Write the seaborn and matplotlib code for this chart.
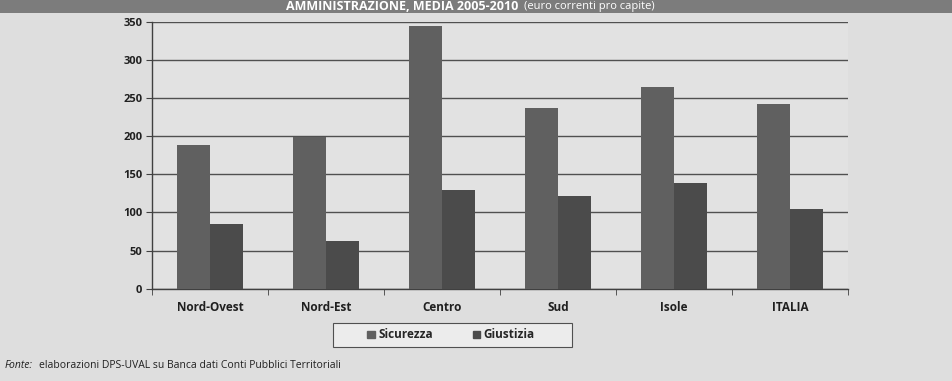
import seaborn as sns
import pandas as pd
import matplotlib.pyplot as plt
from matplotlib.patches import Rectangle, Patch

regioni = ['Nord-Ovest', 'Nord-Est', 'Centro', 'Sud', 'Isole', 'ITALIA']
sicurezza = [189, 199, 344, 237, 264, 242]
giustizia = [85, 62, 129, 121, 138, 104]
y_ticks = [0, 50, 100, 150, 200, 250, 300, 350]

data = pd.DataFrame({
    'Regione': regioni * 2,
    'Valore': sicurezza + giustizia,
    'Voce': ['Sicurezza'] * len(regioni) + ['Giustizia'] * len(regioni),
})

sns.set_style('white')
plt.rcParams['font.family'] = ['Open Sans', 'DejaVu Sans']

bg = '#dedede'
col_sic = '#606060'
col_giu = '#4b4b4b'

fig = plt.figure(figsize=(9.52, 3.81), dpi=100, facecolor=bg)
ax = fig.add_axes([0.1597, 0.2423, 0.7311, 0.7007])
ax.set_facecolor('#e2e2e2')

sns.barplot(data=data, x='Regione', y='Valore', hue='Voce',
            palette=[col_sic, col_giu], width=0.57, saturation=1,
            linewidth=0, ax=ax, zorder=3, legend=False)

ax.set_ylim(0, 350)
ax.set_xlim(-0.5, len(regioni) - 0.5)
ax.set_yticks(y_ticks)
ax.yaxis.grid(True, color='#505050', linewidth=1.0, zorder=0)
ax.set_axisbelow(True)
ax.set_xlabel('')
ax.set_ylabel('')

for s in ['top', 'right']:
    ax.spines[s].set_visible(False)
for s in ['left', 'bottom']:
    ax.spines[s].set_color('#404040')
    ax.spines[s].set_linewidth(1.0)

ax.tick_params(axis='y', labelsize=8, length=4, color='#404040', left=True, pad=3)
ax.tick_params(axis='x', labelsize=8.5, length=0, pad=9)
for lab in ax.get_yticklabels() + ax.get_xticklabels():
    lab.set_fontweight('bold')
    lab.set_color('#202020')

# category boundary ticks on the x axis
ax.set_xticks([i + 0.5 for i in range(-1, len(regioni))], minor=True)
ax.tick_params(axis='x', which='minor', length=4, color='#404040', bottom=True)

# legend, with its own box
fig.add_artist(Rectangle((333 / 952, 34 / 381), 239 / 952, 24 / 381,
                         transform=fig.transFigure, facecolor='#ececec',
                         edgecolor='#505050', linewidth=0.8, zorder=1))
handles = [Patch(color=col_sic, label='Sicurezza'), Patch(color=col_giu, label='Giustizia')]
leg = fig.legend(handles=handles, loc='center', bbox_to_anchor=(451 / 952, 46 / 381), ncol=2,
                 frameon=False, handlelength=0.6, handleheight=0.6,
                 handletextpad=0.3, columnspacing=3.4,
                 prop={'weight': 'bold', 'size': 8.5})
leg.set_zorder(2)

# title band
fig.add_artist(Rectangle((0, 1 - 13 / 381), 1, 13 / 381, transform=fig.transFigure,
                         facecolor='#7c7c7c', edgecolor='none', zorder=0))
t1 = fig.text(0.30, 1 - 6.5 / 381, 'AMMINISTRAZIONE, MEDIA 2005-2010', color='white',
              fontsize=9, fontweight='bold', va='center', ha='left')
fig.canvas.draw()
x_end = t1.get_window_extent().x1 / fig.bbox.width
fig.text(x_end + 0.006, 1 - 6.5 / 381, '(euro correnti pro capite)', color='white',
         fontsize=8, va='center', ha='left')

# source note
fig.text(0.005, 0.04, 'Fonte:', fontsize=7.5, style='italic', color='#202020', va='center')
fig.text(0.041, 0.04, 'elaborazioni DPS-UVAL su Banca dati Conti Pubblici Territoriali',
         fontsize=7.5, color='#202020', va='center')

fig.savefig('out.png', dpi=100, facecolor=bg)
